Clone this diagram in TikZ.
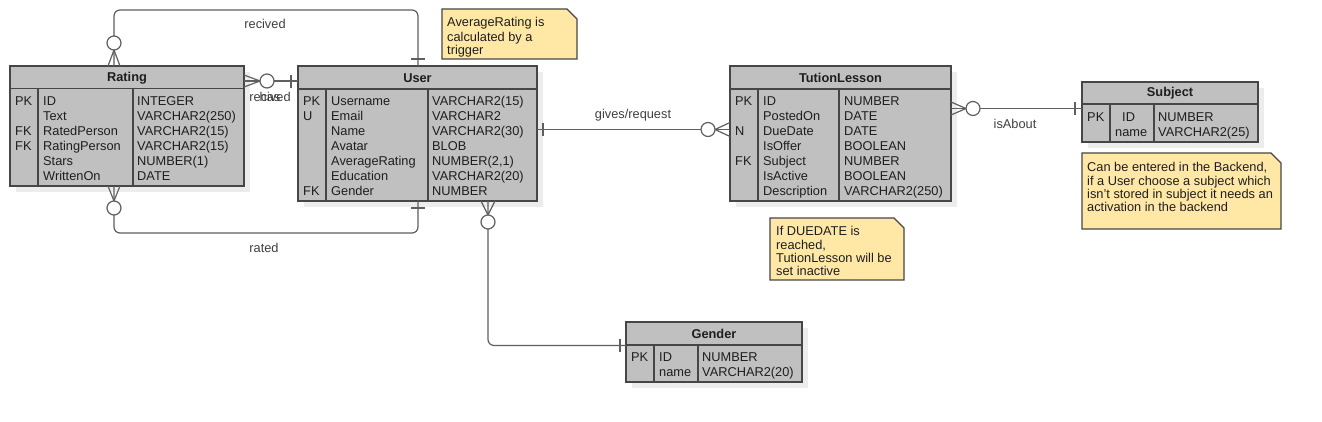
\documentclass[tikz,border=0pt]{standalone}
\usepackage{fontspec}
\setmainfont{Liberation Sans}
\definecolor{boxfill}{RGB}{192,192,192}
\definecolor{boxline}{RGB}{70,70,70}
\definecolor{shadowc}{RGB}{236,236,236}
\definecolor{notefill}{RGB}{255,232,166}
\definecolor{linec}{RGB}{95,95,95}
\definecolor{txtc}{RGB}{30,30,30}
\tikzset{
  ent/.style={draw=boxline, fill=boxfill, line width=1.1pt, anchor=north west, inner sep=0pt, outer sep=0pt},
  sep/.style={draw=boxline, line width=1.1pt},
  col/.style={font=\fontsize{12.8}{15}\selectfont, text=txtc, anchor=north west, align=left, inner sep=0pt},
  hdr/.style={font=\fontsize{12.8}{15}\selectfont\bfseries, text=txtc, inner sep=0pt},
  conn/.style={draw=linec, line width=1.2pt, rounded corners=6pt},
  tip/.style={draw=linec, line width=1.2pt},
  ring/.style={draw=linec, line width=1.2pt, fill=white},
  lbl/.style={font=\fontsize{12.8}{15}\selectfont, text=black!75, inner sep=0pt},
  notebg/.style={draw=boxline, fill=notefill, line width=1.1pt},
  notetxt/.style={font=\fontsize{12.8}{13}\selectfont, text=txtc, anchor=north west, align=left, inner sep=0pt}
}
\newcommand\entitybox[9]{%
  \fill[shadowc] (#2+6,#3+6) rectangle (#4+6,#5+6);
  \node[ent, minimum width=#4pt-#2pt, minimum height=#5pt-#3pt] (#1) at (#2,#3) {};
  \draw[sep] (#2,#6) -- (#4,#6) (#7,#6) -- (#7,#5) (#8,#6) -- (#8,#5);
  \node[hdr] (#1-title) at ({(#2+#4)/2},{(#3+#6)/2+0.5}) {#9};
}
\newcommand\notepaper[4]{%
  \draw[notebg] (#1,#2) -- (#3-10,#2) -- (#3,#2+10) -- (#3,#4) -- (#1,#4) -- cycle;
}
\begin{document}
\begin{tikzpicture}[x=1pt,y=-1pt]
\useasboundingbox (0,0) rectangle (1322,422);
\fill[white] (0,0) rectangle (1322,422);

% entities
\entitybox{rating}{10}{66}{244}{186}{88.5}{38}{133}{Rating}
\node[col] (rating-k) at (15,95.1) {\strut PK\\~\\FK\\FK};
\node[col] (rating-n) at (43,95.1) {\strut ID\\Text\\RatedPerson\\RatingPerson\\Stars\\WrittenOn};
\node[col] (rating-t) at (137,95.1) {\strut INTEGER\\VARCHAR2(250)\\VARCHAR2(15)\\VARCHAR2(15)\\NUMBER(1)\\DATE};

\entitybox{user}{298}{66}{537}{201}{89}{326}{428}{User}
\node[col] (user-k) at (303,95.1) {\strut PK\\U\\~\\~\\~\\~\\FK};
\node[col] (user-n) at (331,95.1) {\strut Username\\Email\\Name\\Avatar\\AverageRating\\Education\\Gender};
\node[col] (user-t) at (432,95.1) {\strut VARCHAR2(15)\\VARCHAR2\\VARCHAR2(30)\\BLOB\\NUMBER(2,1)\\VARCHAR2(20)\\NUMBER};

\entitybox{lesson}{730}{66}{951}{201}{89}{758}{839}{TutionLesson}
\node[col] (lesson-k) at (735,95.1) {\strut PK\\~\\N\\~\\FK};
\node[col] (lesson-n) at (763,95.1) {\strut ID\\PostedOn\\DueDate\\IsOffer\\Subject\\IsActive\\Description};
\node[col] (lesson-t) at (844,95.1) {\strut NUMBER\\DATE\\DATE\\BOOLEAN\\NUMBER\\BOOLEAN\\VARCHAR2(250)};

\entitybox{subject}{1082}{82}{1258}{142}{104}{1110}{1154}{Subject}
\node[col] (subject-k) at (1087,111.1) {\strut PK};
\node[col] (subject-n) at (1115,111.1) {\strut\hspace*{7pt}ID\\name};
\node[col] (subject-t) at (1158,111.1) {\strut NUMBER\\VARCHAR2(25)};

\entitybox{gender}{626}{322}{802}{382}{345}{654}{698}{Gender}
\node[col] (gender-k) at (631,351.1) {\strut PK};
\node[col] (gender-n) at (659,351.1) {\strut ID\\name};
\node[col] (gender-t) at (702,351.1) {\strut NUMBER\\VARCHAR2(20)};

% notes
\notepaper{442}{9}{577}{59}
\node[notetxt] (note-avg) at (447,17.4) {\strut AverageRating is\\calculated by a\\trigger};
\notepaper{1082}{153}{1281}{229}
\node[notetxt] (note-subj) at (1087,161.9) {\strut Can be entered in the Backend,\\if a User choose a subject which\\isn't stored in subject it needs an\\activation in the backend};
\notepaper{770}{218}{904}{280}
\node[notetxt] (note-due) at (776,225.9) {\strut If DUEDATE is\\reached,\\TutionLesson will be\\set inactive};

% connector: recived (Rating top -> User top)
\draw[conn] (114,0 |- rating.north) -- (114,10) -- (418,10) -- (418,0 |- user.north);
\draw[tip] (108,66) -- (114,50) -- (120,66);
\draw[ring] (114,43) circle[radius=7pt];
\draw[tip] (411,59) -- (425,59);
\node[lbl] (lbl-recived) at (265,24) {recived};

% connector: rated (Rating bottom -> User bottom)
\draw[conn] (114,0 |- rating.south) -- (114,233) -- (418,233) -- (418,0 |- user.south);
\draw[tip] (108,186) -- (114,201) -- (120,186);
\draw[ring] (114,208) circle[radius=7pt];
\draw[tip] (411,208) -- (425,208);
\node[lbl] (lbl-rated) at (264,248) {rated};

% connector: Rating right -> User left
\draw[conn] (rating.east |- 0,81) -- (user.west |- 0,81);
\draw[tip] (244,75) -- (260,81) -- (244,87);
\draw[ring] (267,81) circle[radius=7pt];
\draw[tip] (291,75) -- (291,88);
\node[lbl] (lbl-rec2) at (270,97) {recived};
\node[lbl] (lbl-has) at (270,97) {has};

% connector: gives/request
\draw[conn] (user.east |- 0,129.5) -- (lesson.west |- 0,129.5);
\draw[tip] (543,123) -- (543,136);
\draw[tip] (730,122.5) -- (715,129.5) -- (730,136.5);
\draw[ring] (708,129.5) circle[radius=7pt];
\node[lbl] (lbl-gives) at (633,115) {gives/request};

% connector: isAbout
\draw[conn] (lesson.east |- 0,108.5) -- (subject.west |- 0,108.5);
\draw[tip] (951,102) -- (966,108.5) -- (951,115);
\draw[ring] (973,108.5) circle[radius=7pt];
\draw[tip] (1075,102) -- (1075,115);
\node[lbl] (lbl-about) at (1015,123.5) {isAbout};

% connector: User -> Gender
\draw[conn] (488,0 |- user.south) -- (488,345.5) -- (gender.west |- 0,345.5);
\draw[tip] (481,201) -- (488,215) -- (495,201);
\draw[ring] (488,222) circle[radius=7pt];
\draw[tip] (620,339) -- (620,352);
\end{tikzpicture}
\end{document}
